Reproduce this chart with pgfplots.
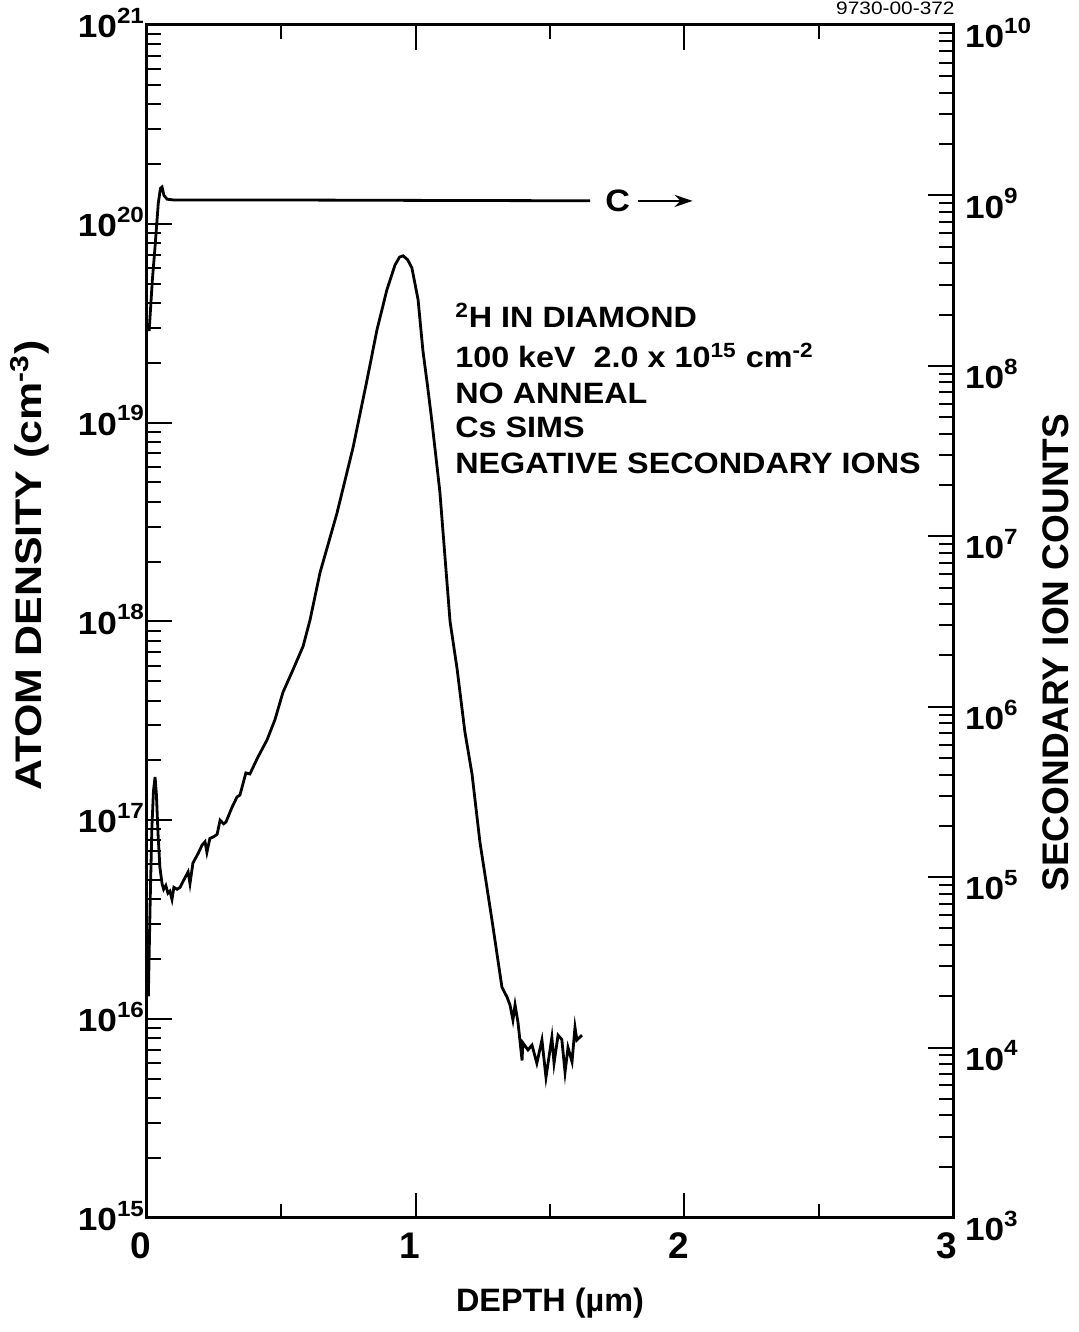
\documentclass[border=0pt]{standalone}
\usepackage{fontspec}
\setmainfont{Liberation Sans}
\newfontfamily\lab[FakeStretch=1.1]{Liberation Sans}
\newfontfamily\labw[FakeStretch=1.16]{Liberation Sans}
\usepackage{pgfplots}
\pgfplotsset{compat=1.18}
\usetikzlibrary{arrows.meta}
\newcommand{\tl}[1]{10\raisebox{0.45em}{\fontsize{11}{11}\selectfont #1}}
\begin{document}
\begin{tikzpicture}
\useasboundingbox (-73.5pt,-57pt) rectangle (465.5pt,609pt);
\begin{axis}[
  at={(0,0)}, anchor=south west,
  scale only axis, width=403pt, height=596.5pt,
  xmin=0, xmax=3, ymode=log, ymin=1e15, ymax=1e21,
  xtick={0,1,2,3}, minor xtick={0.5,1.5,2.5}, xtick pos=both,
  xticklabels={0,1,2,3},
  ytick={1e15,1e16,1e17,1e18,1e19,1e20,1e21},
  yticklabels={\tl{15},\tl{16},\tl{17},\tl{18},\tl{19},\tl{20},\tl{21}},
  minor ytick={2e15,3e15,4e15,5e15,6e15,7e15,8e15,9e15,
               2e16,3e16,4e16,5e16,6e16,7e16,8e16,9e16,
               2e17,3e17,4e17,5e17,6e17,7e17,8e17,9e17,
               2e18,3e18,4e18,5e18,6e18,7e18,8e18,9e18,
               2e19,3e19,4e19,5e19,6e19,7e19,8e19,9e19,
               2e20,3e20,4e20,5e20,6e20,7e20,8e20,9e20},
  ytick pos=left,
  axis line style={line width=1.5pt},
  every tick/.style={line width=1pt, black},
  major tick length=12.5pt, minor tick length=7pt,
  yticklabel style={font=\lab\bfseries\fontsize{16}{16}\selectfont, xshift=2pt, yshift=1pt},
  xticklabel style={font=\bfseries\fontsize{18.5}{18.5}\selectfont, yshift=-4pt, xshift=-3pt},
]
\addplot[black, line width=1.4pt] coordinates {
(0.005,1.3e16) (0.012,4.0e16) (0.018,9.0e16) (0.024,1.4e17) (0.030,1.65e17)
(0.035,1.35e17) (0.041,8.6e16) (0.048,5.8e16) (0.056,4.8e16) (0.062,4.5e16)
(0.070,4.7e16) (0.078,4.3e16) (0.085,4.4e16) (0.093,4.0e16) (0.100,4.6e16)
(0.112,4.5e16) (0.123,4.6e16) (0.140,5.1e16) (0.153,5.5e16) (0.160,4.8e16)
(0.171,6.1e16) (0.190,6.8e16) (0.205,7.5e16) (0.216,7.8e16) (0.223,6.9e16)
(0.234,8.1e16) (0.250,8.3e16) (0.261,8.5e16) (0.272,1.0e17) (0.285,9.6e16)
(0.294,9.8e16) (0.315,1.15e17) (0.335,1.31e17) (0.346,1.34e17) (0.368,1.73e17)
(0.383,1.71e17) (0.413,2.08e17) (0.447,2.54e17) (0.476,3.2e17) (0.506,4.4e17)
(0.543,5.7e17) (0.581,7.5e17) (0.607,1.02e18) (0.644,1.76e18) (0.707,3.5e18)
(0.767,7.5e18) (0.819,1.64e19) (0.856,2.93e19) (0.893,4.66e19) (0.923,6.2e19)
(0.940,6.8e19) (0.953,6.9e19) (0.970,6.6e19) (0.986,6.0e19) (1.009,4.15e19)
(1.027,2.3e19) (1.045,1.5e19) (1.061,1.0e19) (1.090,4.5e18) (1.128,1.0e18)
(1.154,5.8e17) (1.183,2.8e17) (1.210,1.7e17) (1.239,7.8e16) (1.284,3.15e16)
(1.321,1.45e16) (1.340,1.29e16) (1.351,1.18e16) (1.362,9.9e15) (1.370,1.18e16)
(1.381,9.6e15) (1.396,6.2e15) (1.399,7.6e15) (1.418,7.0e15) (1.433,7.4e15)
(1.451,6.0e15) (1.470,7.85e15) (1.485,5.1e15) (1.507,8.1e15) (1.515,6.0e15)
(1.530,8.3e15) (1.544,7.9e15) (1.556,5.4e15) (1.567,7.2e15) (1.582,6.1e15)
(1.593,9.1e15) (1.600,7.85e15) (1.619,8.3e15)
};
\node[anchor=base west, inner sep=0pt, font=\lab\bfseries\fontsize{14.7}{14.7}\selectfont] at (rel axis cs:0.382,0.746) {\textsuperscript{2}H IN DIAMOND};
\node[anchor=base west, inner sep=0pt, font=\lab\bfseries\fontsize{14.7}{14.7}\selectfont] at (rel axis cs:0.382,0.7125) {100 keV\ \ 2.0 x 10\textsuperscript{15} cm\textsuperscript{-2}};
\node[anchor=base west, inner sep=0pt, font=\lab\bfseries\fontsize{14.7}{14.7}\selectfont] at (rel axis cs:0.382,0.683) {NO ANNEAL};
\node[anchor=base west, inner sep=0pt, font=\lab\bfseries\fontsize{14.7}{14.7}\selectfont] at (rel axis cs:0.382,0.654) {Cs SIMS};
\node[anchor=base west, inner sep=0pt, font=\lab\bfseries\fontsize{14.7}{14.7}\selectfont] at (rel axis cs:0.382,0.624) {NEGATIVE SECONDARY IONS};
\node[inner sep=0pt, font=\lab\bfseries\fontsize{15.5}{15.5}\selectfont] at (rel axis cs:0.584,0.8525) {C};
\draw[line width=1.3pt, -{Stealth[length=9pt,width=6pt]}] (rel axis cs:0.609,0.8525) -- (rel axis cs:0.677,0.8525);
\end{axis}
\begin{axis}[
  at={(0,0)}, anchor=south west,
  scale only axis, width=403pt, height=596.5pt,
  xmin=0, xmax=3, ymode=log, ymin=1e3, ymax=1e10,
  axis x line=none, axis y line*=right,
  ytick={1e3,1e4,1e5,1e6,1e7,1e8,1e9,1e10},
  yticklabels={\tl{3},\tl{4},\tl{5},\tl{6},\tl{7},\tl{8},\tl{9},\tl{10}},
  minor ytick={2e3,3e3,4e3,5e3,6e3,7e3,8e3,9e3,
               2e4,3e4,4e4,5e4,6e4,7e4,8e4,9e4,
               2e5,3e5,4e5,5e5,6e5,7e5,8e5,9e5,
               2e6,3e6,4e6,5e6,6e6,7e6,8e6,9e6,
               2e7,3e7,4e7,5e7,6e7,7e7,8e7,9e7,
               2e8,3e8,4e8,5e8,6e8,7e8,8e8,9e8,
               2e9,3e9,4e9,5e9,6e9,7e9,8e9,9e9},
  axis line style={line width=1.5pt, -},
  every tick/.style={line width=1pt, black},
  major tick length=12.5pt, minor tick length=7pt,
  yticklabel style={font=\lab\bfseries\fontsize{16}{16}\selectfont, anchor=west, xshift=2.5pt, yshift=-4pt},
]
\addplot[black, line width=1.4pt] coordinates {
(0.008,1.6e8) (0.020,3.2e8) (0.030,5.0e8) (0.042,9.0e8) (0.050,1.1e9)
(0.056,1.12e9) (0.063,1.0e9) (0.075,9.5e8) (0.100,9.4e8) (0.500,9.4e8)
(1.000,9.35e8) (1.649,9.3e8)
};
\end{axis}
\node[inner sep=0pt, font=\bfseries\fontsize{16.2}{16.2}\selectfont] at (201.5pt,-42.5pt) {DEPTH (µm)};
\node[inner sep=0pt, rotate=90, font=\labw\bfseries\fontsize{18.5}{18.5}\selectfont] at (-58.5pt,326.3pt) {ATOM DENSITY (cm\textsuperscript{-3})};
\node[inner sep=0pt, rotate=90, font=\bfseries\fontsize{18.5}{18.5}\selectfont] at (454.5pt,282.7pt) {SECONDARY ION COUNTS};
\node[inner sep=0pt, anchor=base east, font=\labw\fontsize{9}{9}\selectfont] at (404pt,601.5pt) {9730-00-372};
\end{tikzpicture}
\end{document}
